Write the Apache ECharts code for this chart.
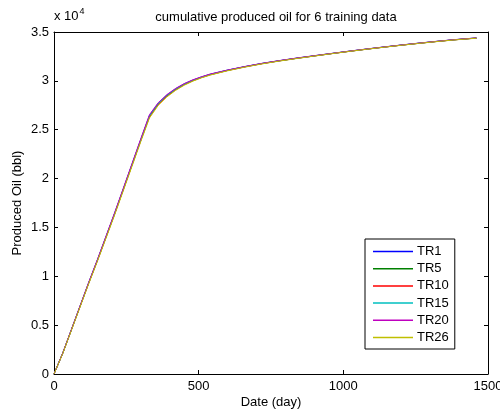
<!DOCTYPE html>
<html>
<head>
<meta charset="utf-8">
<script src="https://cdn.jsdelivr.net/npm/echarts@6/dist/echarts.min.js"></script>
<style>
  html, body { margin: 0; padding: 0; background: #fff; }
  #chart { width: 500px; height: 410px; }
</style>
</head>
<body>
<div id="chart"></div>
<script>
// Day of each sample (days since start of production)
const days = [0, 30, 60, 90, 120, 150, 180, 210, 240, 270, 300, 330, 360, 390, 420, 450, 480, 510, 540,
  600, 660, 720, 780, 840, 900, 960, 1020, 1080, 1140, 1200, 1260, 1320, 1380, 1440, 1460];

// Cumulative produced oil (bbl) for each training case
const tr1  = [0, 2120, 4530, 6940, 9350, 11670, 14080, 16490, 18990, 21500, 24010, 26460, 27700, 28540, 29180, 29690, 30080, 30400, 30680,
  31100, 31460, 31790, 32070, 32330, 32570, 32800, 33030, 33250, 33460, 33660, 33850, 34030, 34200, 34340, 34380];
const tr5  = [0, 2110, 4510, 6910, 9310, 11620, 14020, 16420, 18920, 21420, 23920, 26360, 27610, 28460, 29110, 29630, 30030, 30360, 30640,
  31070, 31440, 31770, 32050, 32310, 32550, 32790, 33020, 33240, 33450, 33650, 33840, 34020, 34190, 34330, 34370];
const tr10 = [0, 2100, 4500, 6900, 9300, 11600, 14000, 16400, 18900, 21400, 23900, 26320, 27570, 28420, 29080, 29600, 30010, 30340, 30620,
  31060, 31430, 31760, 32050, 32310, 32550, 32790, 33020, 33240, 33450, 33650, 33840, 34020, 34190, 34330, 34370];
const tr15 = [0, 2110, 4520, 6930, 9340, 11650, 14060, 16460, 18960, 21460, 23960, 26420, 27660, 28500, 29150, 29660, 30060, 30380, 30660,
  31090, 31450, 31780, 32060, 32320, 32560, 32800, 33030, 33250, 33460, 33660, 33850, 34030, 34200, 34340, 34380];
const tr20 = [0, 2130, 4550, 6970, 9390, 11710, 14130, 16550, 19050, 21560, 24080, 26540, 27760, 28590, 29220, 29720, 30110, 30420, 30700,
  31110, 31470, 31800, 32080, 32340, 32580, 32810, 33040, 33260, 33470, 33670, 33860, 34040, 34210, 34350, 34390];
const tr26 = [0, 2080, 4460, 6850, 9240, 11530, 13920, 16310, 18800, 21290, 23790, 26200, 27480, 28350, 29020, 29550, 29970, 30310, 30590,
  31030, 31410, 31740, 32030, 32290, 32540, 32780, 33010, 33230, 33440, 33640, 33830, 34010, 34180, 34320, 34360];

const seriesNames = ['TR1', 'TR5', 'TR10', 'TR15', 'TR20', 'TR26'];
const seriesValues = [tr1, tr5, tr10, tr15, tr20, tr26];
const seriesColors = ['#0000ff', '#008000', '#ff0000', '#00bfbf', '#bf00bf', '#bfbf00'];

const xTicks = [0, 500, 1000, 1500];
const yTickLabels = ['0', '0.5', '1', '1.5', '2', '2.5', '3', '3.5'];

const FONT = 'Liberation Sans, Arial, Helvetica, sans-serif';

const chart = echarts.init(document.getElementById('chart'), null, { renderer: 'canvas' });

const axisCommon = {
  axisLine: { show: true, onZero: false, lineStyle: { color: '#000', width: 1 } },
  axisTick: { show: true, inside: true, length: 4, lineStyle: { color: '#000', width: 1 } },
  splitLine: { show: false },
  axisLabel: { color: '#000', fontSize: 13, fontFamily: FONT }
};

const option = {
  backgroundColor: '#fff',
  animation: false,
  title: {
    text: 'cumulative produced oil for 6 training data',
    left: 271, textAlign: 'center', top: 6,
    textStyle: { fontSize: 13, fontWeight: 'normal', color: '#000', fontFamily: FONT }
  },
  grid: { left: 54, right: 12, top: 32, bottom: 36, containLabel: false, outerBoundsMode: 'none' },
  xAxis: [{
    type: 'value', min: 0, max: 1500, interval: 500, position: 'bottom',
    name: 'Date (day)', nameLocation: 'middle', nameGap: 22, nameMoveOverlap: false,
    nameTextStyle: { color: '#000', fontSize: 13, fontFamily: FONT },
    ...axisCommon,
    axisLabel: { ...axisCommon.axisLabel, margin: 6,
      formatter: v => xTicks.includes(v) ? String(v) : '' }
  }, {
    type: 'value', min: 0, max: 1500, interval: 500, position: 'top',
    ...axisCommon, axisLabel: { show: false }
  }],
  yAxis: [{
    type: 'value', min: 0, max: 35000, interval: 5000, position: 'left',
    name: 'Produced Oil (bbl)', nameLocation: 'middle', nameGap: 30, nameMoveOverlap: false,
    nameTextStyle: { color: '#000', fontSize: 13, fontFamily: FONT },
    ...axisCommon,
    axisLabel: { ...axisCommon.axisLabel, margin: 5,
      formatter: v => yTickLabels[Math.round(v / 5000)] }
  }, {
    type: 'value', min: 0, max: 35000, interval: 5000, position: 'right',
    ...axisCommon, axisLabel: { show: false }
  }],
  legend: {
    orient: 'vertical', left: 365, top: 239,
    padding: [5, 6, 4, 8], itemGap: 2.2,
    itemWidth: 40, itemHeight: 1.5, icon: 'rect',
    backgroundColor: '#fff', borderColor: '#000', borderWidth: 1,
    textStyle: { color: '#000', fontSize: 13, fontFamily: FONT, lineHeight: 15, padding: [0, 0, 0, -1] },
    data: seriesNames
  },
  graphic: [{
    type: 'text', left: 54, top: 7,
    style: {
      text: '{a|x 10}{b|4}',
      rich: {
        a: { fontSize: 13, fontFamily: FONT, fill: '#000', verticalAlign: 'bottom', lineHeight: 16 },
        b: { fontSize: 9, fontFamily: FONT, fill: '#000', verticalAlign: 'top', lineHeight: 10, padding: [0, 0, 8, 1] }
      }
    }
  }],
  series: seriesNames.map((name, i) => ({
    name,
    type: 'line',
    symbol: 'none',
    smooth: false,
    data: days.map((d, k) => [d, seriesValues[i][k]]),
    lineStyle: { color: seriesColors[i], width: 1 },
    itemStyle: { color: seriesColors[i] }
  }))
};

chart.setOption(option);
</script>
</body>
</html>
